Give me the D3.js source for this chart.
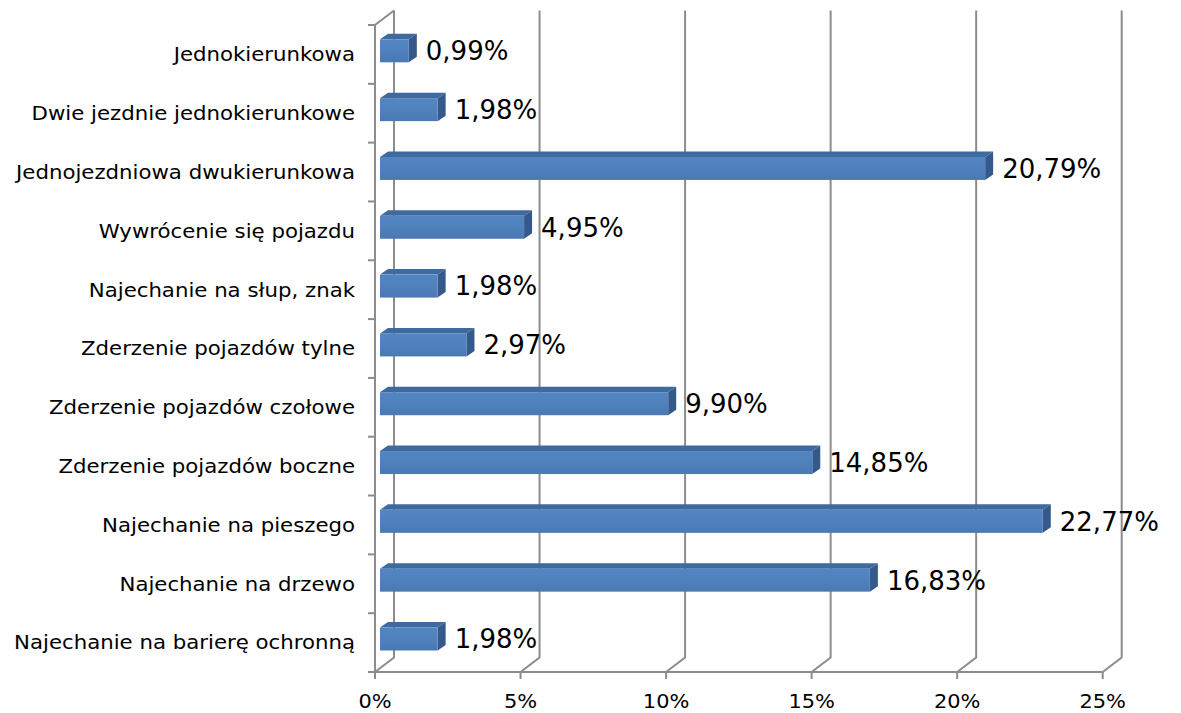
<!DOCTYPE html>
<html><head><meta charset="utf-8">
<script src="https://cdn.jsdelivr.net/npm/d3@7"></script>
<style>body{margin:0;background:#fff}svg{display:block}</style>
</head><body>
<svg id="c" width="1181" height="713"></svg>
<script>
const categories = ["Jednokierunkowa","Dwie jezdnie jednokierunkowe","Jednojezdniowa dwukierunkowa","Wywrócenie się pojazdu","Najechanie na słup, znak","Zderzenie pojazdów tylne","Zderzenie pojazdów czołowe","Zderzenie pojazdów boczne","Najechanie na pieszego","Najechanie na drzewo","Najechanie na barierę ochronną"];
const values = [0.99,1.98,20.79,4.95,1.98,2.97,9.90,14.85,22.77,16.83,1.98];
const valueLabels = ["0,99%","1,98%","20,79%","4,95%","1,98%","2,97%","9,90%","14,85%","22,77%","16,83%","1,98%"];
const ticks = [0,5,10,15,20,25];
const tickLabels = ["0%","5%","10%","15%","20%","25%"];

const svg = d3.select("#c");
const x = d3.scaleLinear().domain([0,25]).range([375,1102.7]);
const y = d3.scaleBand().domain(categories).range([25,672]).paddingInner(0).paddingOuter(0);
const floorY = 672, topY = 25;
const wdx = 19, wdy = -14.5;   // wall depth
const bx0 = 5, by0 = -3.6;      // bar front offset
const bdx = 8, bdy = -5.5;      // bar depth
const bh = 23;
const grid = "#8c8c8c";
const font = "DejaVu Sans, Verdana, sans-serif";

const g = svg.append("g").attr("fill","none").attr("stroke",grid).attr("stroke-width",2);
ticks.forEach(t => {
  g.append("path").attr("d",`M${x(t)},${floorY} L${x(t)+wdx},${floorY+wdy} L${x(t)+wdx},${topY+wdy}`);
});
g.append("path").attr("d",`M${x(0)},${floorY} L${x(0)},${topY} L${x(0)+wdx},${topY+wdy}`);
g.append("line").attr("x1",x(0)).attr("x2",x(25)).attr("y1",floorY).attr("y2",floorY);
ticks.forEach(t => g.append("line").attr("x1",x(t)).attr("x2",x(t)).attr("y1",floorY).attr("y2",floorY+7));
const yb = categories.map(c=>y(c)).concat([floorY]);
yb.forEach(v => g.append("line").attr("x1",x(0)-7).attr("x2",x(0)).attr("y1",v).attr("y2",v));

const defs = svg.append("defs");
const lg = defs.append("linearGradient").attr("id","fg").attr("x1",0).attr("x2",0).attr("y1",0).attr("y2",1);
lg.append("stop").attr("offset","0%").attr("stop-color","#5285c2");
lg.append("stop").attr("offset","50%").attr("stop-color","#4f81bd");
lg.append("stop").attr("offset","100%").attr("stop-color","#4a79b3");

const bars = svg.append("g");
categories.forEach((c,i) => {
  const cy = y(c) + y.bandwidth()/2 + by0;
  const x0 = x(0)+bx0, x1 = x(values[i])+bx0;
  const t = cy - bh/2, b = cy + bh/2;
  bars.append("path").attr("d",`M${x0},${t} L${x0+bdx},${t+bdy} L${x1+bdx},${t+bdy} L${x1},${t}Z`).attr("fill","#3e6a9f");
  bars.append("path").attr("d",`M${x1},${t} L${x1+bdx},${t+bdy} L${x1+bdx},${b+bdy} L${x1},${b}Z`).attr("fill","#34598a");
  bars.append("rect").attr("x",x0).attr("y",t).attr("width",x1-x0).attr("height",bh).attr("fill","url(#fg)");
  bars.append("text").attr("x",x1+17).attr("y",cy).attr("dy","0.36em")
    .attr("font-family",font).attr("font-size",26).attr("fill","#000").text(valueLabels[i]);
  svg.append("text").attr("transform",`translate(355,${y(c)+y.bandwidth()/2}) scale(1.12,1)`).attr("dy","0.36em").attr("text-anchor","end")
    .attr("font-family",font).attr("font-size",19).attr("fill","#000").text(c);
});

ticks.forEach((t,i) => {
  svg.append("text").attr("transform",`translate(${x(t)},708) scale(1.1,1)`).attr("text-anchor","middle")
    .attr("font-family",font).attr("font-size",19).attr("fill","#000").text(tickLabels[i]);
});
</script>
</body></html>
